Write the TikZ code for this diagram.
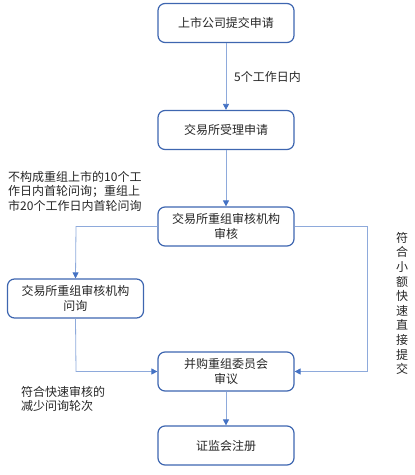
\documentclass[tikz,border=0pt]{standalone}
\usepackage{fontspec}
\setmainfont{Noto Sans CJK SC}
\usetikzlibrary{arrows.meta}
\definecolor{boxc}{HTML}{3E66B0}
\definecolor{linec}{HTML}{8EAADB}
\definecolor{tipc}{HTML}{4472C4}
\tikzset{
  stepbox/.style={draw=boxc, line width=1.2pt, rounded corners=7pt, minimum width=136pt, minimum height=39pt, align=center, inner sep=2pt, font=\fontsize{12pt}{15pt}\selectfont, text=black!85},
  conn/.style={draw=linec, line width=0.8pt, -{Triangle[length=6pt,width=6pt,color=tipc]}},
  lbl/.style={font=\fontsize{12pt}{14.5pt}\selectfont, text=black!85, align=left, inner sep=0pt}
}
\begin{document}
\begin{tikzpicture}[x=1pt,y=-1pt]
\useasboundingbox (0,0) rectangle (415,475);
\node[stepbox] (b1) at (226,23) {上市公司提交申请};
\node[stepbox] (b2) at (226,130) {交易所受理申请};
\node[stepbox] (b3) at (226,226.5) {交易所重组审核机构\\审核};
\node[stepbox] (b4) at (75.5,298.5) {交易所重组审核机构\\问询};
\node[stepbox] (b5) at (226,371.5) {并购重组委员会\\审议};
\node[stepbox] (b6) at (226,445.5) {证监会注册};
\coordinate (c1) at (76,226.5);
\coordinate (c2) at (367,226.5);
\coordinate (c3) at (367,371.5);
\coordinate (c4) at (76,371.5);
\draw[conn] (b1) -- (b2);
\draw[conn] (b2) -- (b3);
\draw[conn] (b3.west) -- (c1) -- (b4.north);
\draw[conn] (b3.east) -- (c2) -- (c3) -- (b5.east);
\draw[conn] (b4.south) -- (c4) -- (b5.west);
\draw[conn] (b5) -- (b6);
\node[lbl, anchor=west] (t1) at (234,77) {5个工作日内};
\node[lbl, anchor=north west] (t2) at (8,171) {不构成重组上市的10个工\\作日内首轮问询；重组上\\市20个工作日内首轮问询};
\node[lbl, anchor=north west] (t3) at (21,386) {符合快速审核的\\减少问询轮次};
\node[lbl, anchor=north, align=center, font=\fontsize{12pt}{14.6pt}\selectfont] (t4) at (402,232) {符\\合\\小\\额\\快\\速\\直\\接\\提\\交};
\end{tikzpicture}
\end{document}
